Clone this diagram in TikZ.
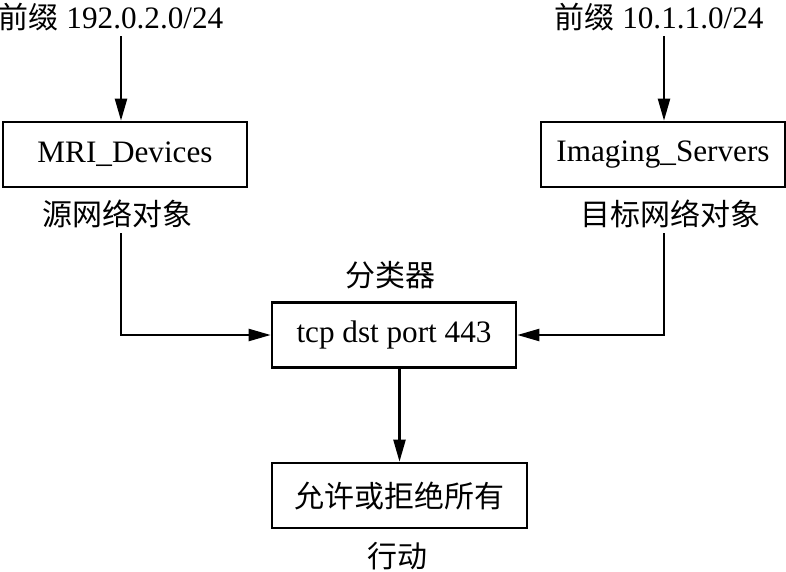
\documentclass[tikz,border=0pt]{standalone}
\usepackage{fontspec}
\setmainfont[Scale=1.04]{Liberation Serif}
\newfontfamily\cjk{Noto Sans CJK SC}
\usepackage{tikz}
\usetikzlibrary{arrows.meta,positioning}

\begin{document}
\begin{tikzpicture}[
  x=0.5pt, y=-0.5pt,
  obj/.style={draw, line width=1.3pt, minimum width=122pt,
              minimum height=32.5pt, inner sep=0pt},
  tag/.style={inner sep=2.5pt},
  arrow/.style={-{Triangle[length=11pt, width=6pt]}, line width=1.1pt},
  font=\fontsize{15pt}{18pt}\selectfont
]
  \useasboundingbox (0,0) rectangle (786,572);

  \node[obj] (mri) at (125,154.5) {MRI\_Devices};
  \node[obj] (servers) at (663,154.5) {Imaging\_Servers};
  \node[obj] (classifier) at (394,335) {tcp dst port 443};
  \node[obj, minimum width=127.5pt] (action) at (399.5,495.5) {\cjk 允许或拒绝所有};

  \node[tag] (srcprefix) at (111,17) {{\cjk 前缀} 192.0.2.0/24};
  \node[tag] (dstprefix) at (659,17) {{\cjk 前缀} 10.1.1.0/24};
  \node[tag] (srclabel) at (117,214) {\cjk 源网络对象};
  \node[tag] (dstlabel) at (670,214) {\cjk 目标网络对象};
  \node[tag] (classlabel) at (390,275) {\cjk 分类器};
  \node[tag] (actlabel) at (397,556) {\cjk 行动};

  \coordinate (srcx) at (121,0);
  \coordinate (dstx) at (664,0);

  \draw[arrow] (srcx |- srcprefix.south) -- (srcx |- mri.north);
  \draw[arrow] (dstx |- dstprefix.south) -- (dstx |- servers.north);
  \draw[arrow] (srcx |- srclabel.south) |- (classifier.west);
  \draw[arrow] (dstx |- dstlabel.south) |- (classifier.east);
  \draw[arrow] (classifier.south -| action.north) -- (action.north);
\end{tikzpicture}
\end{document}
